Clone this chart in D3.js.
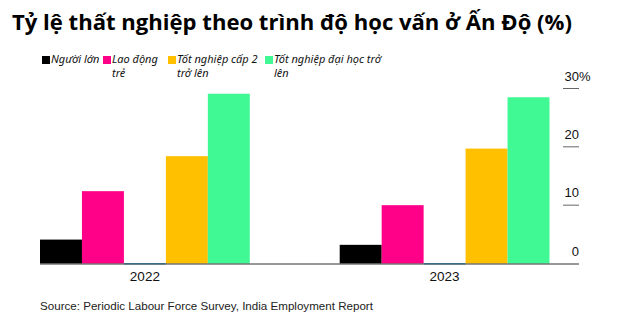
<!DOCTYPE html>
<html><head><meta charset="utf-8">
<script src="https://cdn.jsdelivr.net/npm/d3@7"></script>
<style>
html,body{margin:0;padding:0;background:#fff;}
svg{display:block;}
</style></head>
<body>
<script>
// ---- data ----
const categories = ["2022", "2023"];
const seriesNames = ["Người lớn", "Lao động\ntrẻ", "", "Tốt nghiệp cấp 2\ntrở lên", "Tốt nghiệp đại học trở\nlên"];
const seriesColors = ["#000000", "#ff0088", "#4aa3d8", "#ffc000", "#41f994"];
const adults     = [4.1, 3.2];
const youth      = [12.4, 10.0];
const hidden     = [0, 0];
const secondary  = [18.4, 19.7];
const graduates  = [29.1, 28.5];
const seriesValues = [adults, youth, hidden, secondary, graduates];
const yTicks = [0, 10, 20, 30];
const title = "Tỷ lệ thất nghiệp theo trình độ học vấn ở Ấn Độ (%)";
const source = "Source: Periodic Labour Force Survey, India Employment Report";

// ---- layout ----
const W = 640, H = 332;
const svg = d3.select("body").append("svg").attr("width", W).attr("height", H);

const x0 = d3.scaleBand().domain(categories).range([40, 549.5]).paddingInner(0.3).paddingOuter(0);
const x1 = d3.scaleBand().domain(d3.range(seriesValues.length)).range([0, x0.bandwidth()]).padding(0);
const y = d3.scaleLinear().domain([0, 30]).range([263.5, 88.5]);

// title
const t = svg.append("text").attr("x", 12).attr("y", 30)
  .attr("font-family", "'Open Sans', sans-serif").attr("font-weight", 700)
  .attr("font-size", 22).attr("fill", "#000").text(title);
const tl = t.node().getComputedTextLength();
t.attr("font-size", 22 * 560 / tl);

// legend
const legendX = [42, 103, 168, 265];
const legendIdx = [0, 1, 3, 4];
legendIdx.forEach((si, k) => {
  const g = svg.append("g").attr("transform", `translate(${legendX[k]},0)`);
  g.append("rect").attr("x", 0).attr("y", 56).attr("width", 8).attr("height", 8).attr("fill", seriesColors[si]);
  seriesNames[si].split("\n").forEach((line, i) => {
    g.append("text").attr("x", 9).attr("y", 63 + i * 14)
      .attr("font-family", "'Noto Sans', sans-serif").attr("font-style", "italic")
      .attr("font-size", 11).attr("fill", "#111").text(line);
  });
});

// bars
const groups = svg.append("g").selectAll("g").data(categories).join("g")
  .attr("transform", d => `translate(${x0(d)},0)`);
groups.selectAll("rect")
  .data((d, ci) => seriesValues.map((vals, si) => ({si, v: vals[ci]})))
  .join("rect")
  .attr("x", d => x1(d.si))
  .attr("width", x1.bandwidth())
  .attr("y", d => d.v === 0 ? y(0) - 0.5 : y(d.v))
  .attr("height", d => d.v === 0 ? 1.5 : y(0) - y(d.v))
  .attr("fill", d => seriesColors[d.si]);

// baseline
svg.append("line").attr("x1", 40).attr("x2", 579).attr("y1", y(0) + 0.5).attr("y2", y(0) + 0.5)
  .attr("stroke", "#333").attr("stroke-width", 1);

// y axis (right)
const yAxis = svg.append("g");
yTicks.filter(v => v !== 0).forEach(v => {
  yAxis.append("line").attr("x1", 563).attr("x2", 579).attr("y1", y(v)).attr("y2", y(v))
    .attr("stroke", "#666").attr("stroke-width", 1);
});
yTicks.forEach(v => {
  yAxis.append("text").attr("x", 579).attr("y", y(v) - 8).attr("text-anchor", "end")
    .attr("font-family", "'Liberation Sans', Arial, sans-serif").attr("font-size", 13).attr("fill", "#111")
    .text(v);
  if (v === d3.max(yTicks)) {
    yAxis.append("text").attr("x", 579).attr("y", y(v) - 8)
      .attr("font-family", "'Liberation Sans', Arial, sans-serif").attr("font-size", 13).attr("fill", "#111")
      .text("%");
  }
});

// x labels
svg.append("g").selectAll("text").data(categories).join("text")
  .attr("x", d => x0(d) + x0.bandwidth() / 2).attr("y", 281)
  .attr("text-anchor", "middle")
  .attr("font-family", "'Liberation Sans', Arial, sans-serif").attr("font-size", 13.5).attr("fill", "#111")
  .text(d => d);

// source
svg.append("text").attr("x", 40).attr("y", 310)
  .attr("font-family", "'Liberation Sans', Arial, sans-serif").attr("font-size", 11.6).attr("fill", "#222")
  .text(source);
</script>
</body></html>
